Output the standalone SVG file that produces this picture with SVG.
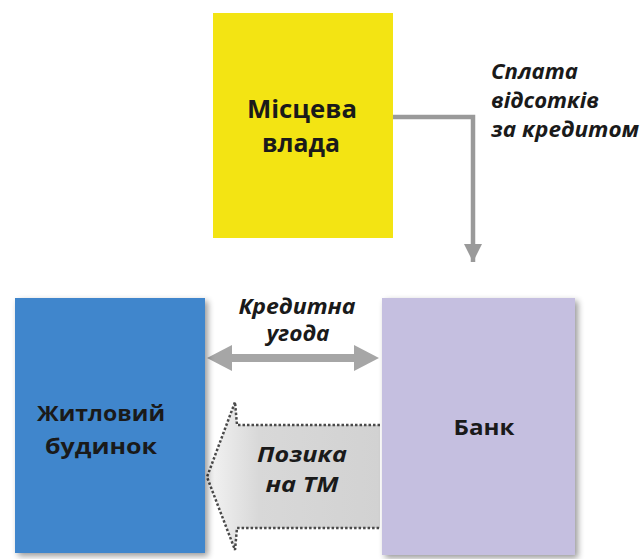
<svg xmlns="http://www.w3.org/2000/svg" width="641" height="559" viewBox="0 0 641 559">
  <defs>
    <style>
      .node-label { font-family: "Open Sans", "Liberation Sans", sans-serif; font-weight: bold; fill: #1a1a1a; text-anchor: middle; }
      .edge-label { font-family: "Open Sans", "Liberation Sans", sans-serif; font-weight: bold; font-style: italic; fill: #1a1a1a; }
      .conn { fill: none; stroke: #9a9a9a; }
    </style>
    <filter id="shadow" x="-10%" y="-10%" width="125%" height="125%">
      <feGaussianBlur in="SourceAlpha" stdDeviation="3"/>
      <feOffset dx="3" dy="3" result="b"/>
      <feComponentTransfer><feFuncA type="linear" slope="0.4"/></feComponentTransfer>
      <feMerge><feMergeNode/><feMergeNode in="SourceGraphic"/></feMerge>
    </filter>
    <linearGradient id="loanFill" x1="207" y1="0" x2="380" y2="0" gradientUnits="userSpaceOnUse">
      <stop offset="0" stop-color="#f4f4f4"/>
      <stop offset="0.3" stop-color="#d8d8d8"/>
      <stop offset="1" stop-color="#d2d2d2"/>
    </linearGradient>
    <marker id="arrowDown" viewBox="0 0 10 10" refX="10" refY="5" markerWidth="4" markerHeight="4" orient="auto" markerUnits="strokeWidth">
      <path d="M0,0 L10,5 L0,10 z" fill="#9a9a9a"/>
    </marker>
  </defs>

  <rect width="641" height="559" fill="#ffffff"/>

  <!-- connectors -->
  <g id="connectors">
    <!-- interest payment: local authority to bank -->
    <path class="conn" d="M393,117 H473 V262" stroke-width="4.5" marker-end="url(#arrowDown)"/>
    <!-- credit agreement: double-headed arrow -->
    <g id="credit-agreement">
      <rect x="230" y="354" width="126" height="8" fill="#a6a6a6"/>
      <path d="M207,358 L232,345 L232,371 z" fill="#a6a6a6"/>
      <path d="M379,358 L354,345 L354,371 z" fill="#a6a6a6"/>
    </g>
    <!-- loan: dotted block arrow towards the house -->
    <g id="loan">
      <path d="M380,425 H237 L235,402 L207,477 L235,550 L237,528 H380"
            fill="url(#loanFill)" stroke="#4a4a4a" stroke-width="2.5" stroke-dasharray="2.5,2"/>
    </g>
  </g>

  <g id="local-authority">
    <rect x="213" y="13" width="180" height="225" fill="#f3e413"/>
    <text class="node-label" x="302" y="118" font-size="25" textLength="110" lengthAdjust="spacingAndGlyphs">Місцева</text>
    <text class="node-label" x="301" y="152" font-size="25" textLength="78" lengthAdjust="spacingAndGlyphs">влада</text>
  </g>

  <g id="house">
    <rect x="15" y="298" width="190" height="255" fill="#3f86cc" filter="url(#shadow)"/>
    <text class="node-label" x="101" y="421" font-size="22" textLength="128" lengthAdjust="spacingAndGlyphs">Житловий</text>
    <text class="node-label" x="101" y="454" font-size="22" textLength="112" lengthAdjust="spacingAndGlyphs">будинок</text>
  </g>

  <g id="bank">
    <rect x="382" y="298" width="193" height="257" fill="#c5bfe0" filter="url(#shadow)"/>
    <text class="node-label" x="484" y="435" font-size="22" textLength="61" lengthAdjust="spacingAndGlyphs">Банк</text>
  </g>

  <!-- edge labels -->
  <g id="labels">
    <text class="edge-label" x="491" y="79" font-size="21" textLength="87" lengthAdjust="spacingAndGlyphs">Сплата</text>
    <text class="edge-label" x="491" y="108" font-size="21" textLength="108" lengthAdjust="spacingAndGlyphs">відсотків</text>
    <text class="edge-label" x="491" y="137" font-size="21" textLength="148" lengthAdjust="spacingAndGlyphs">за кредитом</text>
    <text class="edge-label" x="297" y="314" font-size="21" text-anchor="middle" textLength="117" lengthAdjust="spacingAndGlyphs">Кредитна</text>
    <text class="edge-label" x="298" y="341" font-size="21" text-anchor="middle" textLength="63" lengthAdjust="spacingAndGlyphs">угода</text>
    <text class="edge-label" x="302" y="462" font-size="21" text-anchor="middle" textLength="90" lengthAdjust="spacingAndGlyphs">Позика</text>
    <text class="edge-label" x="302" y="492" font-size="21" text-anchor="middle" textLength="73" lengthAdjust="spacingAndGlyphs">на ТМ</text>
  </g>
</svg>
